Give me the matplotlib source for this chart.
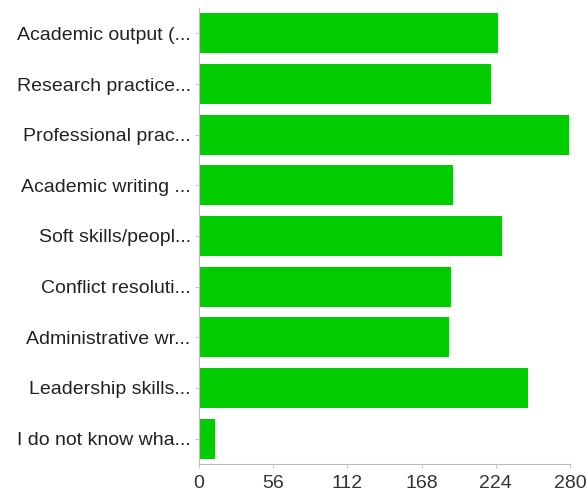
#!/usr/bin/env python3
"""Horizontal bar chart of training needs responses."""
import matplotlib
matplotlib.use("Agg")
import matplotlib.pyplot as plt

plt.rcParams["font.family"] = ["Liberation Sans", "DejaVu Sans"]

categories = [
    "Academic output (...",
    "Research practice...",
    "Professional prac...",
    "Academic writing ...",
    "Soft skills/peopl...",
    "Conflict resoluti...",
    "Administrative wr...",
    "Leadership skills...",
    "I do not know wha...",
]
counts = [226, 220, 279, 192, 229, 190, 189, 248, 12]
x_ticks = [0, 56, 112, 168, 224, 280]

fig = plt.figure(figsize=(5.87, 4.93), dpi=100)
axe = fig.add_axes([199 / 587, 29 / 493, 371 / 587, 456 / 493])

positions = list(range(len(categories)))
axe.barh(positions, counts, height=0.79, color="#00cc00")

axe.set_xlim(0, 280)
axe.set_ylim(8.5, -0.5)
axe.set_xticks(x_ticks)
axe.set_xticklabels([str(t) for t in x_ticks], fontsize=14, color="#333333")
axe.set_yticks(positions)
axe.set_yticklabels(categories, fontsize=14, color="#222222")

for side in ("top", "right"):
    axe.spines[side].set_visible(False)
for side in ("left", "bottom"):
    axe.spines[side].set_color("#bbbbbb")
    axe.spines[side].set_linewidth(0.8)
axe.tick_params(axis="both", length=3, color="#bbbbbb", width=0.6)
axe.tick_params(axis="x", pad=5)
axe.tick_params(axis="y", pad=3)

fig.savefig("out.png", dpi=100)
